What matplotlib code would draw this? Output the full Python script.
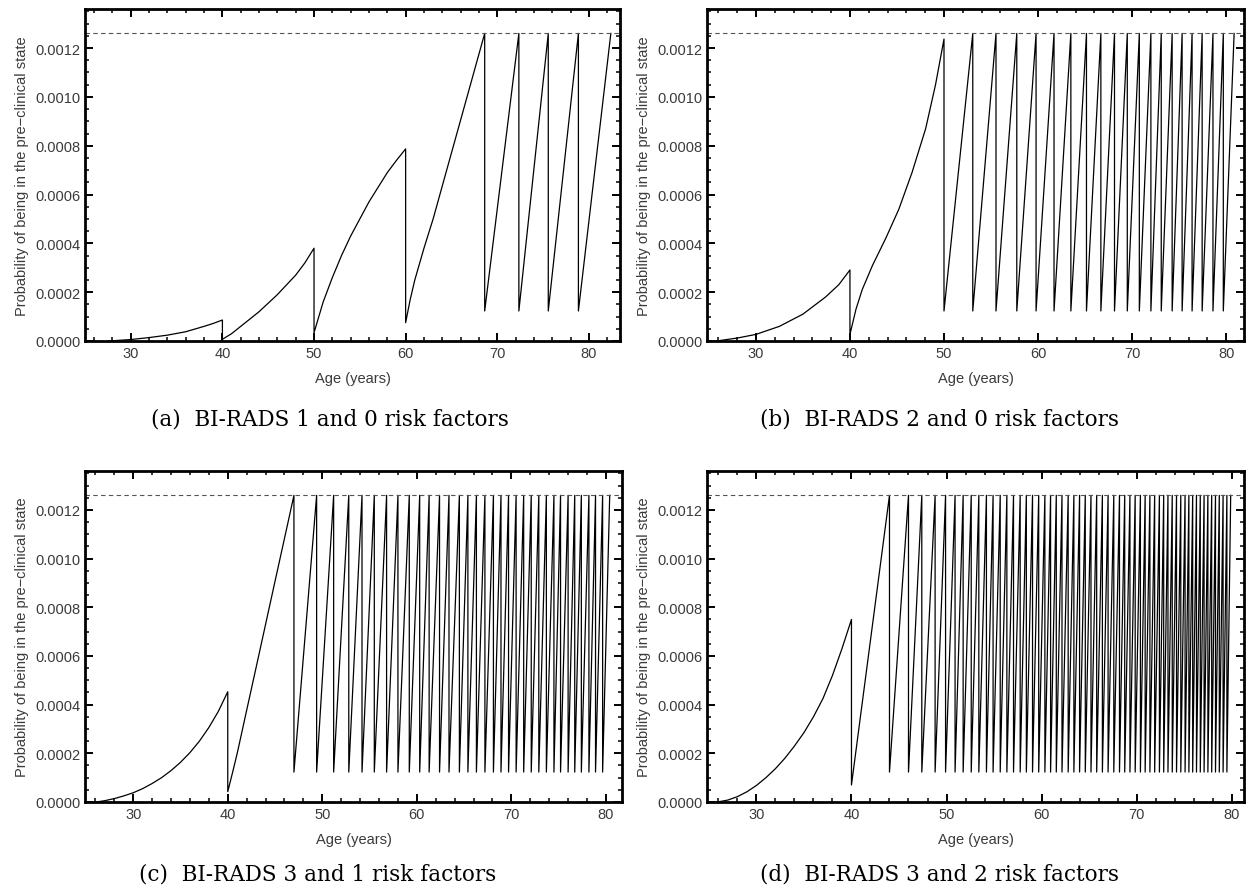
import matplotlib
matplotlib.use("Agg")
import matplotlib.pyplot as plt
from matplotlib.ticker import MultipleLocator, FormatStrFormatter

# threshold (dashed line) and level right after each screening
threshold = 0.00126
low_level = 0.000123

# (a) BI-RADS 1, 0 risk factors
a_curve_x = [27.5, 28, 30, 32, 34, 36, 38, 39, 40,
             40, 41, 42, 43, 44, 45, 46, 47, 48, 49, 50,
             50, 51, 52, 53, 54, 55, 56, 57, 58, 59, 60,
             60, 60.5, 61, 62, 63, 64, 65, 66, 67, 68, 68.63]
a_curve_y = [0.0, 0.000001, 0.000006, 0.000014, 0.000024, 0.000038, 0.00006, 0.000072, 0.000086,
             0.000007, 0.00003, 0.00006, 0.00009, 0.00012, 0.000155, 0.00019, 0.00023, 0.00027,
             0.00032, 0.00038,
             0.000034, 0.00016, 0.00026, 0.00035, 0.00043, 0.0005, 0.00057, 0.00063, 0.00069,
             0.00074, 0.000787,
             0.000075, 0.00017, 0.00025, 0.00038, 0.0005, 0.000635, 0.00077, 0.000905,
             0.00104, 0.001175, 0.00126]
a_peaks = [72.36, 75.57, 78.86, 82.4]

# (b) BI-RADS 2, 0 risk factors
b_curve_x = [25.8, 28, 30, 32.5, 35, 37.4, 38.8, 40,
             40, 40.64, 41.3, 42.4, 43.8, 45.2, 46.6, 48.05, 49.1, 50]
b_curve_y = [0.0, 0.000012, 0.000027, 0.00006, 0.00011, 0.00018, 0.00023, 0.000291,
             0.000027, 0.00013, 0.00021, 0.00031, 0.00042, 0.00054, 0.00069, 0.00087,
             0.00105, 0.001237]
b_peaks = [53.06, 55.53, 57.74, 59.79, 61.70, 63.49, 65.15, 66.68, 68.13, 69.49,
           70.77, 72.0, 73.1, 74.26, 75.32, 76.38, 77.45, 78.6, 79.7, 80.85]

# (c) BI-RADS 3, 1 risk factor
c_curve_x = [26.1, 27, 28, 29, 30, 31, 32, 33, 34, 35, 36, 37, 38, 39, 40,
             40, 40.5, 41, 42, 43, 44, 45, 46, 47.0]
c_curve_y = [0.0, 0.0000055, 0.000014, 0.000025, 0.000038, 0.000055, 0.000076, 0.0001,
             0.000129, 0.000163, 0.000203, 0.00025, 0.000306, 0.000372, 0.000453,
             0.0000425, 0.00012, 0.0002, 0.000377, 0.000553, 0.00073, 0.000907, 0.001083,
             0.00126]
c_peaks = [49.4, 51.2, 52.8, 54.2, 55.5, 56.8, 58.0, 59.2, 60.3, 61.3, 62.4, 63.4,
           64.5, 65.4, 66.3, 67.2, 68.1, 68.9, 69.7, 70.5, 71.3, 72.1, 72.9, 73.7,
           74.5, 75.2, 76.0, 76.7, 77.4, 78.2, 78.9, 79.65, 80.4]

# (d) BI-RADS 3, 2 risk factors
d_curve_x = [25.9, 27, 28, 29, 30, 31, 32, 33, 34, 35, 36, 37, 38, 39, 40, 40, 44.0]
d_curve_y = [0.0, 0.000008, 0.000022, 0.000042, 0.000068, 0.0001, 0.000137, 0.00018,
             0.00023, 0.000285, 0.00035, 0.000425, 0.00052, 0.00063, 0.00075,
             0.00007, 0.00126]
d_peaks = [46.0, 47.4, 48.8, 49.9, 50.9, 51.75, 52.6, 53.4, 54.2, 54.9, 55.65, 56.35,
           57.05, 57.75, 58.4, 59.05, 59.7, 60.35, 60.95, 61.55, 62.15, 62.8, 63.4,
           64.0, 64.6, 65.2, 65.8, 66.4, 67.0, 67.6, 68.2, 68.75, 69.3, 69.85, 70.4,
           70.9, 71.4, 71.9, 72.4, 72.85, 73.3, 73.75, 74.2, 74.65, 75.1, 75.5, 75.9,
           76.3, 76.7, 77.1, 77.5, 77.9, 78.3, 78.7, 79.1, 79.5, 79.9]

captions = ["(a)  BI-RADS 1 and 0 risk factors", "(b)  BI-RADS 2 and 0 risk factors",
            "(c)  BI-RADS 3 and 1 risk factors", "(d)  BI-RADS 3 and 2 risk factors"]

W, H = 1247, 895
fig = plt.figure(figsize=(W / 100, H / 100), dpi=100)
plt.rcParams['font.family'] = ['Liberation Sans', 'DejaVu Sans']


def build(curve_x, curve_y, peaks):
    # screening: drop to low_level, then climb back to the threshold by the next one
    xs, ys = list(curve_x), list(curve_y)
    prev = curve_x[-1]
    for p in peaks:
        xs += [prev, p]
        ys += [low_level, threshold]
        prev = p
    return xs, ys


panels = [
    (a_curve_x, a_curve_y, a_peaks, (85, 10, 620, 342), (25.0, 83.4), 330, 420),
    (b_curve_x, b_curve_y, b_peaks, (707, 10, 1244, 342), (24.8, 81.9), 940, 420),
    (c_curve_x, c_curve_y, c_peaks, (85, 472, 622, 803), (24.9, 81.7), 318, 875),
    (d_curve_x, d_curve_y, d_peaks, (707, 472, 1244, 803), (24.8, 81.3), 940, 875),
]

txt_col = '#3a3a3a'
for i, (cx, cy, pk, box, xl, capx, capy) in enumerate(panels):
    l, t, r, b = box
    ax = fig.add_axes([l / W, 1 - b / H, (r - l) / W, (b - t) / H])
    xs, ys = build(cx, cy, pk)
    ax.plot(xs, ys, color='black', linewidth=0.9)
    ax.axhline(threshold, color='#555555', linestyle=(0, (4, 3)), linewidth=0.8)
    ax.set_xlim(*xl)
    ax.set_ylim(0, 0.00136)
    ax.xaxis.set_major_locator(MultipleLocator(10))
    ax.xaxis.set_minor_locator(MultipleLocator(2))
    ax.yaxis.set_major_locator(MultipleLocator(0.0002))
    ax.yaxis.set_minor_locator(MultipleLocator(0.00005))
    ax.yaxis.set_major_formatter(FormatStrFormatter('%.4f'))
    ax.tick_params(which='both', direction='in', top=True, right=True,
                   labelsize=10.5, labelcolor=txt_col, color='black')
    ax.tick_params(which='major', length=6, width=1.4)
    ax.tick_params(which='minor', length=3, width=1.1)
    for sp in ax.spines.values():
        sp.set_linewidth(2.0)
    ax.set_xlabel('Age (years)', fontsize=10.5, color=txt_col, labelpad=8)
    ax.set_ylabel('Probability of being in the pre\u2212clinical state', fontsize=10.5,
                  color=txt_col, labelpad=4)
    fig.text(capx / W, 1 - capy / H, captions[i], ha='center', va='center',
             fontsize=15.5, family=['DejaVu Serif'])

fig.savefig('out.png', dpi=100)
